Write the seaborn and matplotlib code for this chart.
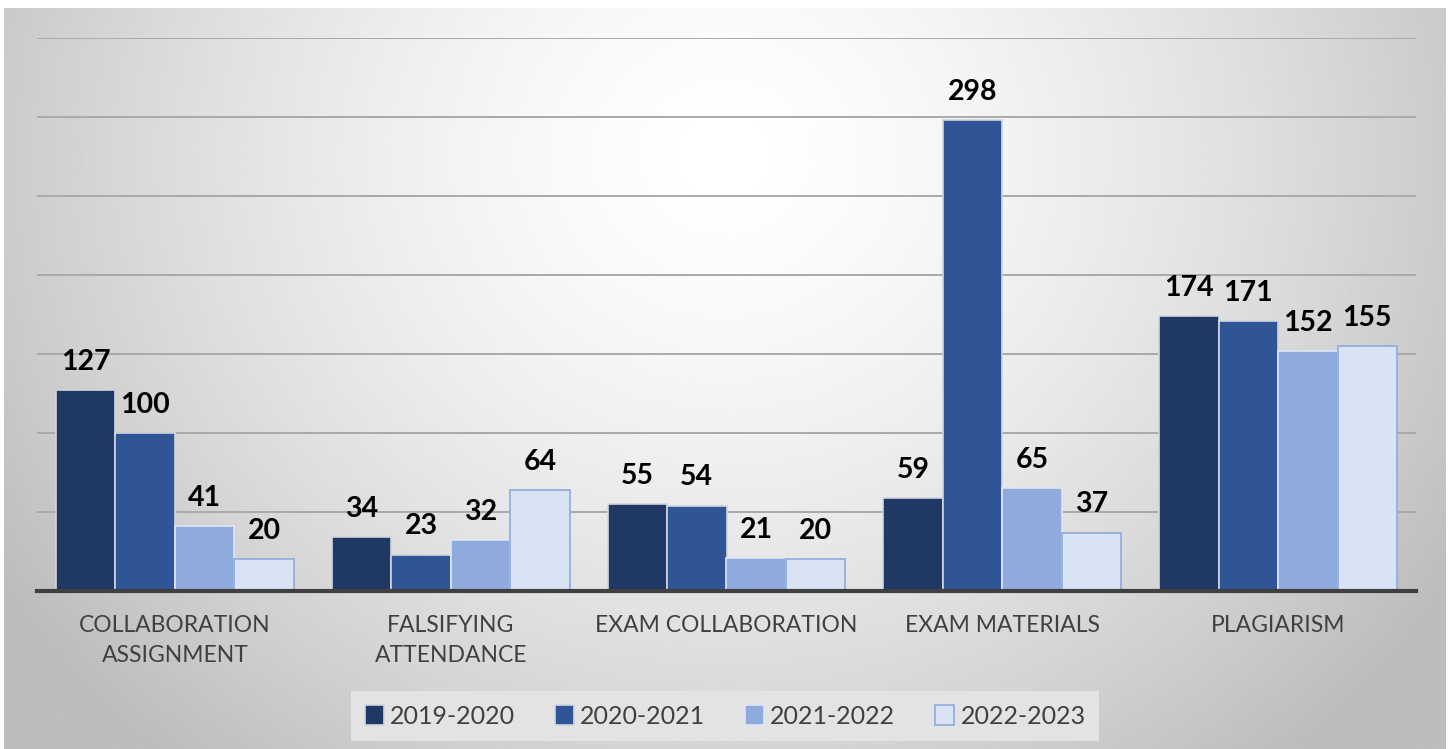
import numpy as np
import pandas as pd
import matplotlib.pyplot as plt
import seaborn as sns
from matplotlib.patches import Patch

# Data
categories = ["COLLABORATION\nASSIGNMENT", "FALSIFYING\nATTENDANCE", "EXAM COLLABORATION",
              "EXAM MATERIALS", "PLAGIARISM"]
years = ["2019-2020", "2020-2021", "2021-2022", "2022-2023"]
cases_2019 = [127, 34, 55, 59, 174]
cases_2020 = [100, 23, 54, 298, 171]
cases_2021 = [41, 32, 21, 65, 152]
cases_2022 = [20, 64, 20, 37, 155]

colors = ["#1f3864", "#2f5597", "#8faadc", "#dae3f3"]
edges = ["#d0d6e0", "#d0d6e0", "#dfe6f3", "#8faadc"]

df = pd.DataFrame({
    "Category": categories * 4,
    "Year": [y for y in years for _ in categories],
    "Cases": cases_2019 + cases_2020 + cases_2021 + cases_2022,
})

sns.set_style("white")
plt.rcParams["font.family"] = ["Lato", "DejaVu Sans"]

fig = plt.figure(figsize=(14.52, 7.49), dpi=100)
fig.patch.set_facecolor("white")

# radial grey background of the chart area
bg = fig.add_axes([4 / 1452, 0, 1442 / 1452, 741 / 749], zorder=-10)
xx, yy = np.meshgrid(np.linspace(0, 1, 400), np.linspace(0, 1, 300))
d = np.sqrt(((xx - 0.5) / 0.5) ** 2 + ((yy - 0.2) / 0.9) ** 2)
shade = np.clip(1 - 0.2 * d ** 1.5, 0.74, 1.0)
bg.imshow(shade, cmap="gray", vmin=0, vmax=1, aspect="auto", extent=[0, 1, 1, 0])
bg.axis("off")

ax = fig.add_axes([37 / 1452, (749 - 591) / 749, 1379 / 1452, 553 / 749])
ax.patch.set_alpha(0)

sns.barplot(data=df, x="Category", y="Cases", hue="Year", palette=colors,
            width=0.862, gap=0, ax=ax, legend=False, saturation=1)

for cont, ec in zip(ax.containers, edges):
    for bar in cont:
        bar.set_edgecolor(ec)
        bar.set_linewidth(1.2)
    ax.bar_label(cont, padding=11, fontsize=20.5, fontweight="bold", color="black")

ax.set_ylim(0, 350)
ax.set_yticks(range(50, 351, 50))
ax.yaxis.grid(True, color="#a9a9a9", linewidth=1.4)
ax.set_axisbelow(True)
ax.set_yticklabels([])
ax.tick_params(axis="y", length=0)
ax.tick_params(axis="x", length=0, pad=17, labelsize=16.5, labelcolor="#404040")
for lbl in ax.get_xticklabels():
    lbl.set_linespacing(1.55)
ax.set_xlabel("")
ax.set_ylabel("")
for side in ["top", "right", "left"]:
    ax.spines[side].set_visible(False)
ax.spines["bottom"].set_color("#404040")
ax.spines["bottom"].set_linewidth(3)
ax.set_xlim(-0.5, 4.5)

handles = [Patch(facecolor=c, edgecolor=e, linewidth=1.2) for c, e in zip(colors, edges)]
leg = fig.legend(handles, years, loc="center", bbox_to_anchor=(0.4995, 0.044), ncol=4,
                 fontsize=18, frameon=True, fancybox=False, handlelength=0.75,
                 handleheight=0.9, handletextpad=0.25, columnspacing=1.6,
                 borderpad=0.55, labelcolor="#404040")
leg.get_frame().set_facecolor("#e3e3e3")
leg.get_frame().set_edgecolor("none")
leg.get_frame().set_alpha(1)

fig.savefig("out.png", dpi=100)
